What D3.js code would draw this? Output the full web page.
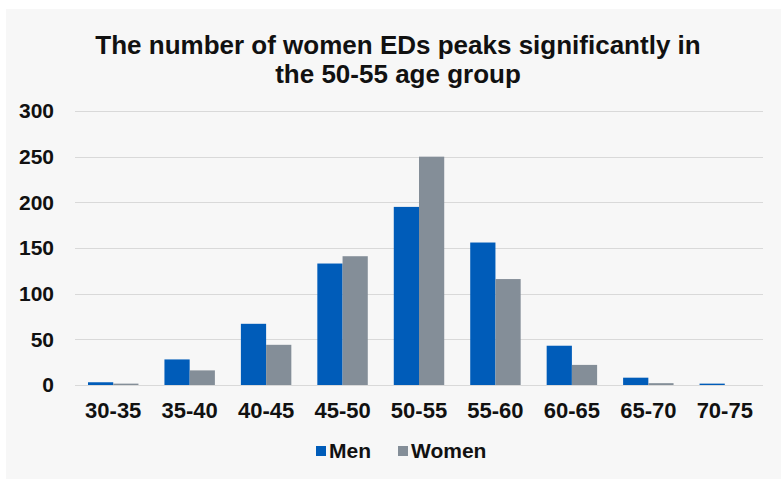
<!DOCTYPE html>
<html lang="en">
<head>
<meta charset="utf-8">
<title>Women EDs by age group</title>
<script src="https://cdn.jsdelivr.net/npm/d3@7"></script>
<style>
  body { margin: 0; background: #fff; }
  text { font-family: "Liberation Sans", Arial, sans-serif; font-weight: bold; fill: #111; }
  .grid line { stroke: #d9d9d9; stroke-width: 1; }
  .axis path, .axis line { display: none; }
</style>
</head>
<body>
<script>
// data
var categories = ["30-35", "35-40", "40-45", "45-50", "50-55", "55-60", "60-65", "65-70", "70-75"];
var seriesNames = ["Men", "Women"];
var men   = [3, 28, 67, 133, 195, 156, 43, 8, 1.5];
var women = [1.5, 16, 44, 141, 250, 116, 22, 2, 0];
var yTicks = [0, 50, 100, 150, 200, 250, 300];
var titleLines = ["The number of women EDs peaks significantly in", "the 50-55 age group"];

var colors = { Men: "#005cb9", Women: "#848e98" };

var w = 781, h = 479;
var plotLeft = 75, plotRight = 763, plotTop = 111, plotBottom = 385;

var svg = d3.select("body").append("svg")
  .attr("width", w)
  .attr("height", h);

// panel background
svg.append("rect")
  .attr("x", 6).attr("y", 9)
  .attr("width", w - 6).attr("height", h - 9)
  .attr("fill", "#f7f7f7");

var x0 = d3.scaleBand()
  .domain(categories)
  .range([plotLeft, plotRight])
  .paddingInner(0.34)
  .paddingOuter(0.17);

var x1 = d3.scaleBand()
  .domain(seriesNames)
  .range([0, x0.bandwidth()]);

var y = d3.scaleLinear()
  .domain([0, 300])
  .range([plotBottom, plotTop]);

// gridlines
svg.append("g")
  .attr("class", "grid")
  .selectAll("line")
  .data(yTicks)
  .enter().append("line")
  .attr("x1", plotLeft).attr("x2", plotRight)
  .attr("y1", function(d) { return Math.round(y(d)) + 0.5; })
  .attr("y2", function(d) { return Math.round(y(d)) + 0.5; });

// y axis labels
var yAxis = d3.axisLeft(y).tickValues(yTicks).tickSize(0).tickPadding(0);
svg.append("g")
  .attr("class", "axis")
  .attr("transform", "translate(54,0)")
  .call(yAxis)
  .selectAll("text")
  .style("font-size", "21px")
  .attr("fill", "#111");

// x axis labels
var xAxis = d3.axisBottom(x0).tickSize(0).tickPadding(0);
svg.append("g")
  .attr("class", "axis")
  .attr("transform", "translate(0,402)")
  .call(xAxis)
  .selectAll("text")
  .style("font-size", "22px")
  .attr("fill", "#111");

d3.selectAll(".axis").attr("font-family", null).attr("font-size", null);

// bars
var rows = categories.map(function(c, i) {
  return { cat: c, values: [{ key: "Men", v: men[i] }, { key: "Women", v: women[i] }] };
});

svg.append("g")
  .selectAll("g")
  .data(rows)
  .enter().append("g")
  .attr("transform", function(d) { return "translate(" + x0(d.cat) + ",0)"; })
  .selectAll("rect")
  .data(function(d) { return d.values; })
  .enter().append("rect")
  .attr("x", function(d) { return x1(d.key); })
  .attr("width", x1.bandwidth())
  .attr("y", function(d) { return y(d.v); })
  .attr("height", function(d) { return plotBottom - y(d.v); })
  .attr("fill", function(d) { return colors[d.key]; });

// title
svg.append("g")
  .selectAll("text")
  .data(titleLines)
  .enter().append("text")
  .attr("x", 398)
  .attr("y", function(d, i) { return 54 + i * 29; })
  .attr("text-anchor", "middle")
  .style("font-size", "26px")
  .text(function(d) { return d; });

// legend
var legend = svg.append("g")
  .selectAll("g")
  .data(seriesNames)
  .enter().append("g")
  .attr("transform", function(d, i) { return "translate(" + (i === 0 ? 316 : 398) + ",446)"; });

legend.append("rect")
  .attr("width", 10).attr("height", 10)
  .attr("fill", function(d) { return colors[d]; });

legend.append("text")
  .attr("x", 13)
  .attr("y", 12)
  .style("font-size", "21px")
  .text(function(d) { return d; });
</script>
</body>
</html>
